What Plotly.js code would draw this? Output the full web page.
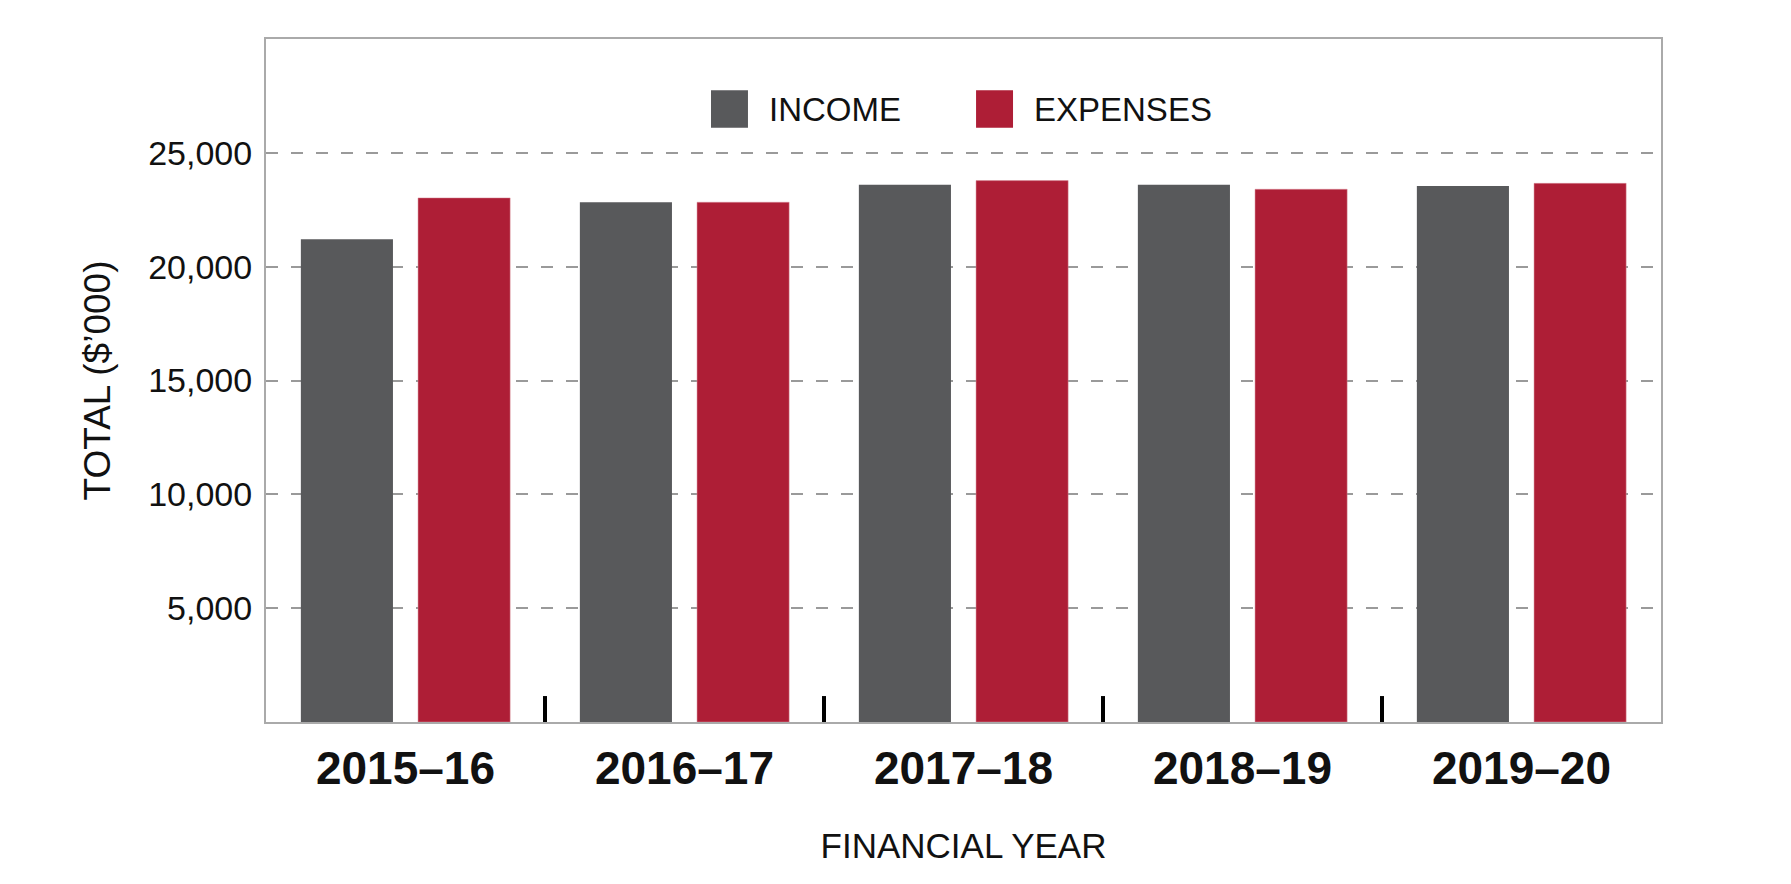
<!DOCTYPE html>
<html>
<head>
<meta charset="utf-8">
<script src="https://cdn.plot.ly/plotly-3.0.1.min.js"></script>
<style>
  html, body { margin: 0; padding: 0; background: #fff; }
  #plot { width: 1791px; height: 884px; }
</style>
</head>
<body>
<div id="plot"></div>
<script>
  // Financial years on the x axis
  var years = ["2015–16", "2016–17", "2017–18", "2018–19", "2019–20"];

  // Totals in $'000
  var income = [21200, 22830, 23600, 23600, 23540];
  var expenses = [23020, 22830, 23780, 23400, 23660];

  var seriesNames = ["INCOME", "EXPENSES"];
  var seriesColors = ["#58595b", "#ae1e36"];

  // y axis ticks
  var yTickVals = [5000, 10000, 15000, 20000, 25000];
  var yTickText = ["5,000", "10,000", "15,000", "20,000", "25,000"];

  var font = "Liberation Sans, Arial, sans-serif";

  var incomeTrace = {
    x: years,
    y: income,
    name: seriesNames[0],
    type: "bar",
    marker: { color: seriesColors[0] },
    showlegend: false,
    hoverinfo: "x+y+name"
  };

  var expensesTrace = {
    x: years,
    y: expenses,
    name: seriesNames[1],
    type: "bar",
    marker: { color: seriesColors[1], line: { color: "#d98c99", width: 0.5 } },
    showlegend: false,
    hoverinfo: "x+y+name"
  };

  var data = [incomeTrace, expensesTrace];

  // short black dividers between the years
  var shapes = [];
  for (var i = 0; i < years.length - 1; i++) {
    shapes.push({
      type: "line", xref: "x", yref: "paper",
      x0: i + 0.5, x1: i + 0.5, y0: 0, y1: 0.038,
      line: { color: "#000", width: 4 }
    });
  }

  // hand made legend with big swatches
  var swatchX = [0.319, 0.509];
  var labelX = [0.359, 0.549];
  var annotations = [];
  for (var k = 0; k < seriesNames.length; k++) {
    shapes.push({
      type: "rect", xref: "paper", yref: "paper",
      x0: swatchX[k], x1: swatchX[k] + 0.0265, y0: 0.870, y1: 0.925,
      fillcolor: seriesColors[k], line: { width: 0 }
    });
    annotations.push({
      xref: "paper", yref: "paper", x: labelX[k], y: 0.8975,
      xanchor: "left", yanchor: "middle", showarrow: false,
      text: seriesNames[k],
      font: { family: font, size: 33, color: "#111" }
    });
  }

  var layout = {
    width: 1791,
    height: 884,
    margin: { l: 266, r: 130, t: 39, b: 162 },
    paper_bgcolor: "#fff",
    plot_bgcolor: "#fff",
    barmode: "group",
    bargap: 0.16,
    bargroupgap: 0.214,
    showlegend: false,
    font: { family: font, color: "#111" },
    xaxis: {
      type: "category",
      categoryorder: "array",
      categoryarray: years,
      range: [-0.5, 4.5],
      showline: true, mirror: true, linecolor: "#aaaaaa", linewidth: 2,
      showgrid: false, zeroline: false,
      ticks: "", ticklabelstandoff: 5,
      tickfont: { family: font, size: 46, weight: "bold", color: "#111" },
      title: { text: "FINANCIAL YEAR", font: { family: font, size: 35, color: "#111" }, standoff: 40 }
    },
    yaxis: {
      range: [0, 30000],
      tickvals: yTickVals,
      ticktext: yTickText,
      showline: true, mirror: true, linecolor: "#aaaaaa", linewidth: 2,
      showgrid: true, gridcolor: "#9a9a9a", gridwidth: 2, griddash: "12px,13px",
      zeroline: false,
      ticks: "", ticklabelstandoff: 5,
      tickfont: { family: font, size: 34, color: "#111" },
      title: { text: "TOTAL ($’000)", font: { family: font, size: 37, color: "#111" }, standoff: 26 }
    },
    shapes: shapes,
    annotations: annotations
  };

  Plotly.newPlot("plot", data, layout, { displayModeBar: false, staticPlot: true });
</script>
</body>
</html>
